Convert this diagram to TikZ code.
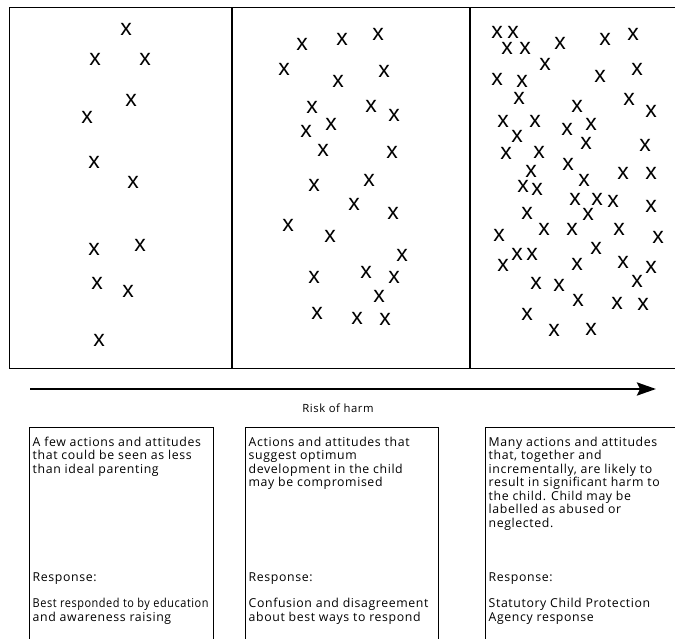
\documentclass[tikz,border=0pt]{standalone}
\usepackage{graphicx}
\usepackage{fontspec}
\setmainfont{Open Sans}[LetterSpace=5]
\newfontfamily\crossfont{Liberation Sans}
\usetikzlibrary{arrows.meta,positioning}

\begin{document}
\begin{tikzpicture}[
    x=1pt, y=-1pt,
    panel/.style={draw, rectangle, line width=1.1pt, anchor=north west, inner sep=0pt, minimum height=361pt},
    infobox/.style={draw, rectangle, line width=1pt, anchor=north west, inner sep=0pt, minimum height=230pt},
    cross/.style={font=\crossfont\fontsize{23}{23}\selectfont, inner sep=0pt},
    desc/.style={font=\fontsize{12.3}{13.5}\selectfont, align=left, inner sep=0pt},
    riskarrow/.style={-{Stealth[length=19pt, width=13pt, inset=3pt]}, line width=2.8pt}
]
    \useasboundingbox (0,0) rectangle (675,639);

    % three panels of actions and attitudes
    \node[panel, minimum width=222pt] (few) at (9,7) {};
    \node[panel, minimum width=237pt] (some) at (few.north east) {};
    \node[panel, minimum width=230pt] (many) at (some.north east) {};

    \begin{scope}[yscale=0.973]
    \foreach \px/\py [count=\i] in {126/30, 95/61, 145/61, 131/103, 87/121, 94/167,
        133/188, 94/256, 140/252, 97/291, 128/300, 99/350}
        \node[cross] (fewx\i) at (\px,\py) {x};

    \foreach \px/\py [count=\i] in {302/46, 342/41, 378/35, 284/71, 384/73, 338/84,
        312/110, 371/109, 394/119, 331/128, 306/135, 323/155, 392/157, 369/185,
        314/191, 354/210, 393/219, 288/232, 330/243, 402/262, 314/285, 366/280,
        394/285, 379/305, 317/322, 357/327, 385/328}
        \node[cross] (somex\i) at (\px,\py) {x};

    \foreach \px/\py [count=\i] in {497/33, 513/33, 507/50, 525/50, 560/45, 605/41,
        633/35, 545/66, 497/82, 522/84, 600/79, 637/71, 519/101, 577/109, 629/102,
        651/115, 503/125, 535/125, 517/140, 567/133, 591/128, 586/147, 645/149,
        506/158, 539/157, 531/176, 568/169, 584/185, 623/178, 651/178, 523/192,
        537/195, 575/205, 597/205, 613/207, 588/220, 651/212, 527/219, 499/242,
        544/236, 572/236, 619/236, 658/244, 517/261, 532/261, 503/273, 596/255,
        577/272, 623/270, 651/275, 637/289, 536/291, 559/293, 578/309, 617/312,
        643/313, 527/323, 554/340, 591/339}
        \node[cross] (manyx\i) at (\px,\py) {x};
    \end{scope}

    % risk scale
    \coordinate (riskstart) at (30,389);
    \coordinate (riskend) at (656,389);
    \draw[riskarrow] (riskstart) -- (riskend);
    \node[desc, font=\fontsize{11.3}{11.3}\selectfont] (risk) at (338,408) {Risk of harm};

    % descriptions and responses
    \node[infobox, minimum width=184pt] (box1) at (29,427) {};
    \node[infobox, minimum width=193pt] (box2) at (245,427) {};
    \node[infobox, minimum width=190pt] (box3) at (485,427) {};

    \node[desc, below right=9.5pt and 3.5pt of box1.north west] (desc1)
        {A few actions and attitudes\\that could be seen as less\\than ideal parenting};
    \node[desc, below right=9.5pt and 3.5pt of box2.north west] (desc2)
        {Actions and attitudes that\\suggest optimum\\development in the child\\may be compromised};
    \node[desc, below right=9.5pt and 3.5pt of box3.north west] (desc3)
        {Many actions and attitudes\\that, together and\\incrementally, are likely to\\result in significant harm to\\the child. Child may be\\labelled as abused or\\neglected.};

    \node[desc, below right=145.5pt and 3.5pt of box1.north west] (resp1) {Response:};
    \node[desc, below right=145.5pt and 3.5pt of box2.north west] (resp2) {Response:};
    \node[desc, below right=145.5pt and 3.5pt of box3.north west] (resp3) {Response:};

    \node[desc, below right=171pt and 3.5pt of box1.north west] (answer1)
        {\scalebox{0.89}[1]{Best responded to by education}\\and awareness raising};
    \node[desc, below right=171pt and 3.5pt of box2.north west] (answer2)
        {Confusion and disagreement\\about best ways to respond};
    \node[desc, below right=171pt and 3.5pt of box3.north west] (answer3)
        {Statutory Child Protection\\Agency response};
\end{tikzpicture}
\end{document}
